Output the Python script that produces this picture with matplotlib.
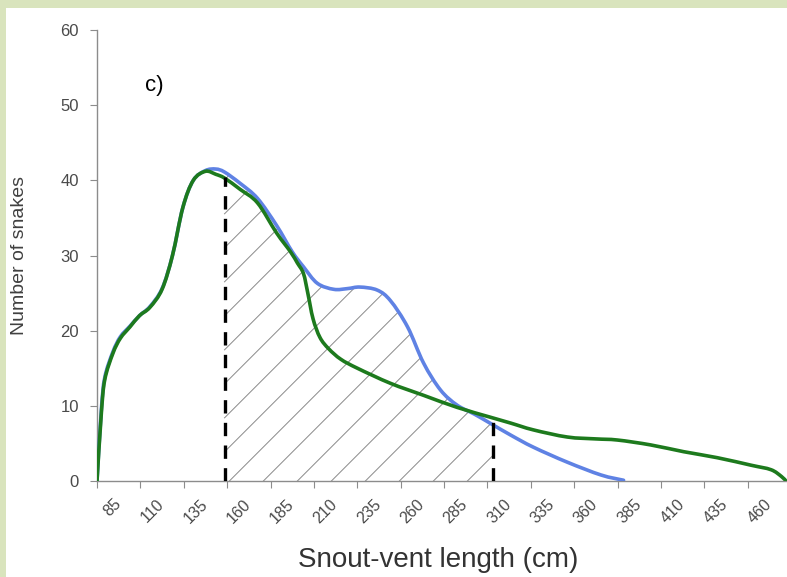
import numpy as np
import matplotlib
matplotlib.use("Agg")
import matplotlib.pyplot as plt
import matplotlib.transforms as mtransforms
from matplotlib.path import Path
from matplotlib.patches import PathPatch, Rectangle

plt.rcParams["font.family"] = ["Liberation Sans", "DejaVu Sans"]

# category labels (cm), each a 25 cm bin
categories = [85, 110, 135, 160, 185, 210, 235, 260, 285, 310, 335, 360, 385, 410, 435, 460]

# blue curve
blue_x = [72.5, 75, 77, 81.7, 86, 91.5, 97, 103, 110, 116, 122, 128, 135, 141, 146,
          155, 165, 176, 185, 191.5, 199.5, 209, 217, 224, 234, 241.6, 251.5, 260.7,
          270.5, 280, 290, 299, 311, 324, 343.6, 363, 376]
blue_y = [0, 9.5, 13.8, 17.2, 19.2, 20.6, 22, 23.2, 25.6, 30, 36.4, 40, 41.3, 41.5, 41.1,
          39.6, 37.6, 34, 30.5, 28.5, 26.3, 25.5, 25.6, 25.8, 25.4, 24, 20.5, 15.7,
          12.1, 10.1, 8.9, 7.7, 6.1, 4.5, 2.5, 0.8, 0.1]

# green curve
green_x = [72.5, 75, 77, 81.7, 86, 91.5, 97, 103, 110, 116, 122, 128, 135, 141, 146,
           155, 165, 176, 184, 188, 191.5, 194, 197, 201, 206, 213, 222.6, 241.6, 260.7,
           280, 299, 311, 324, 343.6, 360, 372.5, 391.6, 410.6, 430, 449.5, 461, 467, 469.6]
green_y = [0, 9, 13.5, 17, 19, 20.5, 22, 23.1, 25.5, 30, 36.4, 40, 41.2, 40.8, 40.3,
           38.8, 37, 33, 30.5, 29, 27.6, 25, 21.6, 19.1, 17.6, 16.2, 15, 13, 11.4,
           9.8, 8.5, 7.7, 6.8, 5.85, 5.6, 5.45, 4.8, 3.9, 3.1, 2.1, 1.5, 0.6, 0]

# hatched interval (cm) and dashed marker heights
interval = [146, 301]
marker_tops = [40.5, 8.5]

yticks = [0, 10, 20, 30, 40, 50, 60]


def smooth_path(xs, ys):
    # catmull-rom style bezier through the read points, like a smoothed line
    p = np.column_stack([xs, ys]).astype(float)
    pts = [p[0]]
    codes = [Path.MOVETO]
    n = len(p)
    for i in range(n - 1):
        p0 = p[max(i - 1, 0)]
        p1 = p[i]
        p2 = p[i + 1]
        p3 = p[min(i + 2, n - 1)]
        c1 = p1 + (p2 - p0) / 6.0
        c2 = p2 - (p3 - p1) / 6.0
        pts += [c1, c2, p2]
        codes += [Path.CURVE4] * 3
    return pts, codes


fig = plt.figure(figsize=(7.87, 5.77), dpi=100)
fig.patch.set_facecolor("white")
fig.patches.append(Rectangle((0, 0), 6 / 787, 1, transform=fig.transFigure,
                             facecolor="#d9e4bd", edgecolor="none", zorder=-1))
fig.patches.append(Rectangle((0, 1 - 8 / 577), 1, 8 / 577, transform=fig.transFigure,
                             facecolor="#d9e4bd", edgecolor="none", zorder=-1))

ax = fig.add_axes([97 / 787, 1 - 481 / 577, 694 / 787, 451 / 577])
ax.set_xlim(72.5, 472.5)
ax.set_ylim(0, 60)

# hatching under the blue curve between the dashed lines
bp, bc = smooth_path(blue_x, blue_y)
clip_path = Path(bp + [[blue_x[-1], 0], [blue_x[0], 0], [blue_x[0], 0]],
                 bc + [Path.LINETO, Path.LINETO, Path.CLOSEPOLY])
k = (694 / 400) / (451 / 60)  # 45 degrees on screen, in data units
for x0 in 148.8 + 19.6 * np.arange(-12, 9):
    xa = max(x0, interval[0])
    xb = min(interval[1], x0 + 60 / k)
    if xb <= xa:
        continue
    ln, = ax.plot([xa, xb], [k * (xa - x0), k * (xb - x0)], color="#8a8a8a", lw=0.7,
                  zorder=1)
    ln.set_clip_path(clip_path, ax.transData)

ax.add_patch(PathPatch(Path(bp, bc), fill=False, edgecolor="#5f82e4", lw=2.6,
                       capstyle="round", zorder=3))
gp, gc = smooth_path(green_x, green_y)
ax.add_patch(PathPatch(Path(gp, gc), fill=False, edgecolor="#1d7a1d", lw=2.6,
                       capstyle="round", zorder=4))

for xv, top in zip(interval, marker_tops):
    ax.plot([xv, xv], [0, top], color="black", lw=2.4, dashes=(4.0, 2.8), zorder=5)

for side in ["top", "right"]:
    ax.spines[side].set_visible(False)
for side in ["left", "bottom"]:
    ax.spines[side].set_color("#8c8c8c")
    ax.spines[side].set_linewidth(1.0)

ax.set_yticks(yticks)
ax.tick_params(axis="y", direction="out", length=5, color="#8c8c8c", labelsize=12,
               labelcolor="#4a4a4a", pad=8)
ax.set_xticks(72.5 + 25 * np.arange(len(categories) + 1))
ax.set_xticklabels([])
ax.set_xticks(categories, minor=True)
ax.set_xticklabels([str(c) for c in categories], minor=True, rotation=45,
                   ha="right", va="top")
ax.tick_params(axis="x", which="major", direction="out", length=5, color="#8c8c8c")
ax.tick_params(axis="x", which="minor", length=0, labelsize=11.5, labelcolor="#4a4a4a",
               pad=11)
shift = mtransforms.ScaledTranslation(5 / 100, 0, fig.dpi_scale_trans)
for lab in ax.get_xticklabels(minor=True):
    lab.set_transform(lab.get_transform() + shift)

ax.set_ylabel("Number of snakes", fontsize=14, color="#404040", va="center")
ax.yaxis.set_label_coords(-(97 - 20) / 694, 0.5)
ax.set_xlabel("Snout-vent length (cm)", fontsize=20, color="#333333", va="center")
ax.xaxis.set_label_coords((438 - 97) / 694, -(560 - 481) / 451)
ax.text(145 / 787, 1 - 85 / 577, "c)", transform=fig.transFigure, fontsize=16,
        va="center", ha="left")

fig.savefig("out.png", dpi=100)
